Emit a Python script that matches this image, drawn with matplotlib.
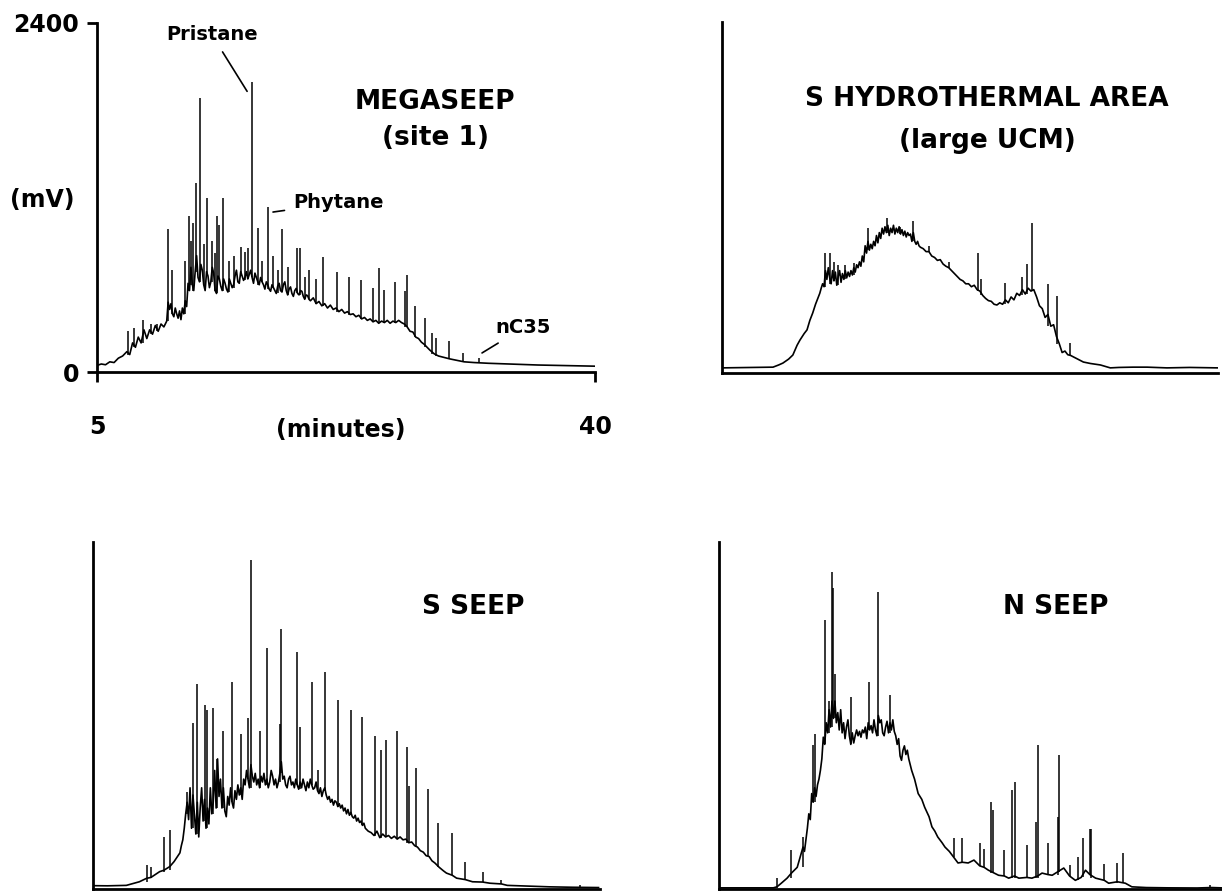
import numpy as np
import matplotlib.pyplot as plt

plt.rcParams['font.family'] = 'DejaVu Sans'
plt.rcParams['font.weight'] = 'bold'

# ---- MEGASEEP (site 1): time (min), signal (mV)
mega_t = [5.0, 5.3, 5.6, 5.9, 6.2, 6.5, 6.8, 7.1, 7.3, 7.5, 7.7, 7.9, 8.1, 8.3, 8.5, 8.7, 8.9,
          9.1, 9.3, 9.5, 9.7, 9.9, 10.0, 10.1, 10.2, 10.3, 10.4, 10.5, 10.6, 10.7, 10.8, 10.9,
          11.0, 11.1, 11.2, 11.3, 11.4, 11.5, 11.6, 11.7, 11.8, 11.9, 12.0, 12.1, 12.2, 12.3,
          12.4, 12.5, 12.6, 12.7, 12.8, 12.9, 13.0, 13.1, 13.2, 13.3, 13.4, 13.5, 13.6, 13.7,
          13.8, 13.9, 14.0, 14.1, 14.2, 14.3, 14.4, 14.5, 14.6, 14.7, 14.8, 14.9, 15.0, 15.1,
          15.2, 15.3, 15.4, 15.5, 15.6, 15.7, 15.8, 15.9, 16.0, 16.1, 16.2, 16.3, 16.4, 16.5,
          16.6, 16.7, 16.8, 16.9, 17.0, 17.1, 17.2, 17.3, 17.4, 17.5, 17.6, 17.7, 17.8, 17.9,
          18.0, 18.1, 18.2, 18.3, 18.4, 18.5, 18.6, 18.7, 18.8, 18.9, 19.0, 19.1, 19.2, 19.3,
          19.4, 19.5, 19.6, 19.7, 19.8, 19.9, 20.0, 20.2, 20.4, 20.6, 20.8, 21.0, 21.2, 21.4,
          21.6, 21.8, 22.0, 22.2, 22.4, 22.6, 22.8, 23.0, 23.2, 23.4, 23.6, 23.8, 24.0, 24.2,
          24.4, 24.6, 24.8, 25.0, 25.2, 25.4, 25.6, 25.8, 26.0, 26.2, 26.4, 26.6, 26.8, 27.0,
          27.2, 27.4, 27.6, 27.8, 28.0, 28.2, 28.4, 28.7, 29.0, 29.4, 29.8, 30.3, 30.8, 31.5,
          32.5, 34.0, 36.0, 38.0, 40.0]
mega_mv = [45, 55, 50, 70, 65, 95, 110, 140, 120, 200, 170, 240, 200, 290, 230, 290, 260,
           320, 280, 330, 310, 350, 480, 430, 470, 400, 380, 440, 400, 370, 420, 360,
           440, 400, 490, 450, 610, 560, 720, 600, 560, 690, 800, 650, 620, 740,
           700, 600, 560, 690, 660, 580, 620, 720, 680, 560, 540, 660, 640, 590,
           560, 640, 610, 570, 550, 640, 610, 580, 600, 660, 700, 620, 610, 690,
           660, 630, 650, 690, 640, 670, 700, 650, 610, 680, 650, 620, 600, 650,
           620, 600, 570, 620, 600, 570, 555, 600, 580, 560, 540, 590, 610, 560,
           550, 600, 620, 560, 530, 570, 585, 540, 520, 560, 575, 540, 530, 560,
           555, 520, 500, 530, 525, 500, 490, 510, 470, 485, 455, 470, 440, 460,
           430, 440, 415, 430, 405, 415, 395, 400, 380, 390, 365, 375, 355, 365,
           345, 355, 335, 350, 340, 355, 335, 350, 340, 355, 340, 330, 310, 280,
           275, 240, 230, 205, 190, 170, 150, 125, 110, 100, 90, 80, 70, 65,
           60, 55, 48, 44, 40]
mega_pk_t = [7.2, 7.6, 8.25, 8.8, 9.2, 9.99, 10.27, 11.2, 11.47, 11.62, 11.75, 11.96, 12.24,
             12.5, 12.73, 13.1, 13.3, 13.43, 13.57, 13.85, 14.3, 14.6, 15.12, 15.4, 15.6,
             15.89, 16.31, 16.6, 17.02, 17.4, 17.7, 18.0, 18.4, 19.05, 19.3, 19.6, 19.9,
             20.4, 20.88, 21.87, 22.71, 23.55, 24.4, 24.82, 25.17, 25.94, 26.64, 26.79,
             27.35, 28.05, 28.54, 28.82, 29.74, 30.72, 31.84]
mega_pk_mv = [280, 300, 360, 330, 330, 985, 700, 760, 1070, 900, 1025, 1300, 1885,
              880, 1200, 900, 820, 1070, 1010, 1200, 760, 800, 860, 825, 850,
              1995, 990, 760, 1135, 800, 700, 980, 720, 850, 850, 650, 700,
              640, 790, 690, 655, 630, 575, 715, 565, 620, 560, 670,
              455, 370, 265, 235, 215, 130, 95]

# ---- S HYDROTHERMAL AREA (large UCM)
hydro_t = [5.0, 7.0, 8.6, 9.0, 9.3, 9.7, 10.0, 10.3, 10.5, 10.8, 11.0, 11.2, 11.4, 11.6, 11.9,
           12.0, 12.1, 12.2, 12.3, 12.4, 12.5, 12.6, 12.7, 12.8, 12.9, 13.0, 13.1, 13.2, 13.3,
           13.4, 13.5, 13.6, 13.7, 13.8, 13.9, 14.0, 14.1, 14.2, 14.3, 14.4, 14.5, 14.6, 14.7,
           14.8, 14.9, 15.0, 15.1, 15.2, 15.3, 15.4, 15.5, 15.6, 15.7, 15.8, 15.9, 16.0, 16.1,
           16.2, 16.3, 16.4, 16.5, 16.6, 16.7, 16.8, 16.9, 17.0, 17.1, 17.2, 17.3, 17.4, 17.5,
           17.6, 17.7, 17.8, 17.9, 18.0, 18.1, 18.2, 18.3, 18.4, 18.5, 18.6, 18.7, 18.8, 18.9,
           19.0, 19.2, 19.4, 19.6, 19.8, 20.0, 20.2, 20.4, 20.6, 20.8, 21.0, 21.2, 21.4, 21.6,
           21.8, 22.0, 22.2, 22.4, 22.6, 22.8, 23.0, 23.2, 23.4, 23.6, 23.8, 24.0, 24.2, 24.4,
           24.6, 24.8, 25.0, 25.2, 25.4, 25.6, 25.8, 26.0, 26.2, 26.4, 26.6, 26.8, 27.0, 27.2,
           27.4, 27.6, 27.8, 28.0, 28.2, 28.4, 28.6, 28.8, 29.0, 29.2, 29.4, 29.6, 30.0, 30.5,
           31.0, 31.7, 32.4, 33.0, 34.0, 35.0, 36.4, 38.0, 40.0]
hydro_mv = [35, 38, 40, 55, 68, 95, 123, 190, 225, 270, 295, 360, 410, 470, 545,
            580, 610, 590, 700, 640, 720, 650, 610, 700, 630, 690, 600, 660, 700,
            620, 680, 640, 700, 650, 690, 660, 700, 670, 720, 690, 740, 720, 760,
            730, 800, 760, 870, 820, 900, 840, 880, 850, 900, 870, 940, 890, 960,
            920, 990, 950, 1000, 960, 1010, 940, 990, 960, 1010, 950, 990, 960, 1000,
            950, 980, 940, 970, 930, 960, 940, 950, 900, 960, 900, 880, 900, 870,
            860, 850, 830, 830, 800, 790, 770, 775, 745, 730, 720, 700, 680, 660,
            640, 630, 610, 610, 590, 600, 570, 560, 530, 510, 495, 490, 470, 465,
            480, 470, 500, 480, 520, 500, 545, 530, 570, 540, 580, 560, 570, 520,
            460, 440, 380, 400, 320, 330, 250, 200, 140, 150, 125, 120, 100, 75,
            65, 55, 35, 38, 40, 40, 35, 38, 35]
hydro_pk_t = [12.27, 12.62, 12.9, 13.2, 13.7, 14.3, 15.33, 16.62, 17.56, 18.5, 19.6, 21.0,
              23.09, 23.3, 24.97, 26.15, 26.5, 26.86, 28.03, 28.67, 29.56]
hydro_pk_mv = [820, 820, 760, 740, 740, 750, 990, 1060, 1000, 1040, 870, 760,
               820, 640, 615, 655, 745, 1025, 610, 525, 205]

# ---- S SEEP
sseep_t = [5.0, 6.0, 7.3, 8.2, 8.7, 9.0, 9.3, 9.6, 9.9, 10.3, 10.6, 11.0, 11.1, 11.2, 11.3,
           11.4, 11.5, 11.6, 11.7, 11.8, 11.9, 12.0, 12.1, 12.2, 12.3, 12.4, 12.5, 12.6, 12.7,
           12.8, 12.9, 13.0, 13.1, 13.2, 13.3, 13.4, 13.5, 13.6, 13.7, 13.8, 13.9, 14.0, 14.1,
           14.2, 14.3, 14.4, 14.5, 14.6, 14.7, 14.8, 14.9, 15.0, 15.1, 15.2, 15.3, 15.4, 15.5,
           15.6, 15.7, 15.8, 15.9, 16.0, 16.1, 16.2, 16.3, 16.4, 16.5, 16.6, 16.7, 16.8, 16.9,
           17.0, 17.1, 17.2, 17.3, 17.4, 17.5, 17.6, 17.7, 17.8, 17.9, 18.0, 18.1, 18.2, 18.3,
           18.4, 18.5, 18.6, 18.7, 18.8, 18.9, 19.0, 19.1, 19.2, 19.3, 19.4, 19.5, 19.6, 19.7,
           19.8, 19.9, 20.0, 20.1, 20.2, 20.3, 20.4, 20.5, 20.6, 20.7, 20.8, 20.9, 21.0, 21.1,
           21.2, 21.3, 21.4, 21.5, 21.6, 21.7, 21.8, 21.9, 22.0, 22.1, 22.2, 22.3, 22.4, 22.5,
           22.6, 22.7, 22.8, 22.9, 23.0, 23.1, 23.2, 23.3, 23.4, 23.5, 23.6, 23.7, 23.8, 23.9,
           24.0, 24.2, 24.4, 24.6, 24.8, 25.0, 25.2, 25.4, 25.6, 25.8, 26.0, 26.2, 26.4, 26.6,
           26.8, 27.0, 27.2, 27.4, 27.6, 27.8, 28.0, 28.2, 28.4, 28.6, 28.9, 29.2, 29.4, 29.8,
           30.1, 30.7, 31.2, 31.9, 32.4, 33.2, 33.6, 35.0, 36.5, 38.1, 39.9]
sseep_mv = [23, 22, 25, 50, 74, 80, 100, 120, 130, 155, 190, 250, 300, 340, 420,
            520, 600, 480, 700, 420, 650, 520, 380, 600, 360, 560, 700, 470, 620,
            420, 560, 450, 700, 520, 600, 820, 560, 900, 640, 760, 560, 700, 540,
            500, 640, 580, 700, 600, 560, 680, 620, 720, 650, 700, 620, 760, 720,
            820, 760, 700, 860, 780, 740, 800, 720, 760, 700, 780, 740, 800, 720,
            760, 700, 740, 820, 780, 720, 760, 700, 740, 800, 880, 760, 780, 720,
            700, 760, 780, 720, 740, 700, 760, 720, 690, 740, 700, 760, 720, 680,
            740, 700, 760, 720, 690, 700, 740, 680, 660, 700, 640, 680, 700, 650,
            620, 640, 600, 620, 580, 610, 600, 570, 590, 560, 580, 540, 560, 520,
            550, 510, 530, 500, 490, 510, 470, 490, 460, 470, 440, 455, 420, 410,
            400, 390, 370, 400, 355, 380, 360, 370, 350, 365, 345, 360, 340, 345,
            320, 325, 300, 290, 265, 255, 230, 225, 195, 180, 150, 125, 110, 95,
            75, 65, 50, 48, 40, 35, 25, 20, 15, 12, 10]
sseep_pk_t = [8.7, 9.0, 9.9, 10.3, 11.5, 11.9, 12.2, 12.7, 12.85, 13.3, 13.55, 14.0, 14.6,
              15.2, 15.7, 15.9, 16.5, 17.0, 17.9, 18.0, 19.1, 19.3, 20.1, 20.5, 21.0, 21.9,
              22.8, 23.6, 24.5, 24.9, 25.2, 26.0, 26.7, 26.8, 27.3, 28.1, 28.8, 29.8, 30.7,
              31.9, 33.2, 38.6]
sseep_pk_mv = [165, 150, 360, 405, 670, 1147, 1420, 1270, 1235, 1250, 900, 1090, 1430,
               1070, 1180, 2277, 1090, 1670, 1140, 1795, 1640, 1120, 1430, 820, 1500, 1310,
               1235, 1190, 1055, 960, 1030, 1090, 980, 713, 840, 690, 455, 390, 185,
               115, 60, 30]

# ---- N SEEP
nseep_t = [5.0, 7.0, 8.75, 9.0, 9.3, 9.7, 10.0, 10.4, 10.8, 10.9, 11.0, 11.1, 11.2, 11.3, 11.4,
           11.5, 11.6, 11.7, 11.8, 11.9, 12.0, 12.1, 12.2, 12.3, 12.4, 12.5, 12.6, 12.7, 12.8,
           12.9, 13.0, 13.1, 13.2, 13.3, 13.4, 13.5, 13.6, 13.7, 13.8, 13.9, 14.0, 14.1, 14.2,
           14.3, 14.4, 14.5, 14.6, 14.7, 14.8, 14.9, 15.0, 15.1, 15.2, 15.3, 15.4, 15.5, 15.6,
           15.7, 15.8, 15.9, 16.0, 16.1, 16.2, 16.3, 16.4, 16.5, 16.6, 16.7, 16.8, 16.9, 17.0,
           17.1, 17.2, 17.3, 17.4, 17.5, 17.6, 17.7, 17.8, 17.9, 18.0, 18.1, 18.2, 18.3, 18.4,
           18.5, 18.75, 19.0, 19.2, 19.5, 19.7, 19.9, 20.1, 20.4, 20.6, 20.9, 21.2, 21.5, 21.8,
           22.2, 22.6, 23.0, 23.3, 23.6, 24.0, 24.3, 24.7, 25.0, 25.4, 25.7, 26.25, 26.6, 27.0,
           27.3, 27.7, 28.0, 28.4, 28.8, 29.2, 29.6, 30.0, 30.3, 30.6, 31.0, 31.6, 31.9, 32.5,
           33.05, 33.5, 34.5, 36.0, 38.0, 39.0, 40.0]
nseep_mv = [8, 8, 8, 15, 40, 75, 110, 150, 290, 260, 340, 420, 520, 480, 660,
            600, 700, 640, 720, 760, 820, 900, 1050, 1000, 1150, 1080, 1240, 1120, 1300,
            1180, 1300, 1150, 1220, 1100, 1240, 1080, 1150, 1040, 1120, 1170, 1060, 1000, 1080,
            1010, 1060, 1100, 1060, 1090, 1050, 1100, 1080, 1120, 1040, 1150, 1100, 1130, 1080,
            1170, 1100, 1060, 1200, 1150, 1170, 1080, 1060, 1120, 1160, 1080, 1150, 1100, 1170,
            1090, 1060, 1000, 1040, 920, 890, 960, 990, 930, 960, 900, 860, 820, 790,
            760, 660, 620, 565, 500, 430, 400, 360, 320, 290, 260, 220, 180, 185,
            180, 200, 160, 150, 130, 110, 95, 90, 75, 90, 75, 80, 75, 90,
            110, 100, 95, 120, 145, 90, 60, 80, 130, 100, 75, 60, 40, 50,
            40, 15, 10, 8, 7, 10, 7]
nseep_pk_t = [9.0, 10.0, 10.8, 11.5, 11.6, 12.3, 12.6, 12.8, 12.9, 13.0, 14.1, 15.35, 16.0,
              16.8, 21.2, 21.8, 23.0, 23.3, 23.8, 23.9, 24.7, 25.2, 25.4, 26.25, 26.9, 27.0,
              27.7, 28.4, 28.5, 29.2, 29.8, 30.1, 30.6, 30.7, 31.6, 32.5, 32.9, 38.9]
nseep_pk_mv = [75, 270, 360, 995, 1075, 1860, 1300, 2195, 2085, 1490, 1325, 1430, 2055,
               1345, 350, 350, 320, 280, 600, 545, 270, 685, 740, 305, 465, 995,
               315, 500, 925, 165, 220, 350, 415, 415, 170, 180, 250, 30]

W, H = 1222, 891


def box(l, t, r, b):
    return [l / W, 1 - b / H, (r - l) / W, (b - t) / H]


def trace(ax, t, mv, pk_t, pk_mv):
    t = np.array(t)
    mv = np.array(mv)
    ax.plot(t, mv, color='black', lw=1.2)
    i = np.clip(np.searchsorted(t, pk_t), 1, len(t) - 1)
    base = np.minimum(mv[i - 1], mv[i])
    ax.vlines(pk_t, base, pk_mv, color='black', lw=1.1)
    ax.set_xlim(5, 40)
    ax.set_ylim(0, 2400)
    for s in ['top', 'right']:
        ax.spines[s].set_visible(False)
    for s in ['left', 'bottom']:
        ax.spines[s].set_linewidth(2)


fig = plt.figure(figsize=(W / 100, H / 100), dpi=100)

ax1 = fig.add_axes(box(97, 23, 595, 372))
trace(ax1, mega_t, mega_mv, mega_pk_t, mega_pk_mv)
ax1.set_xticks([5, 40])
ax1.set_yticks([0, 2400])
ax1.tick_params(axis='x', direction='out', length=7, width=2, labelsize=17, pad=24)
ax1.tick_params(axis='y', direction='out', length=7, width=2, labelsize=17, pad=6)
ax1.text(0.49, -0.165, '(minutes)', transform=ax1.transAxes, fontsize=17,
         ha='center', va='center')
ax1.text(-0.11, 0.493, '(mV)', transform=ax1.transAxes, fontsize=17,
         ha='center', va='center')
lp = dict(arrowstyle='-', color='black', lw=1.2, shrinkA=4, shrinkB=0)
ax1.annotate('Pristane', xy=(15.55, 1930), xytext=(13.08, 2318), fontsize=14,
             ha='center', va='center', arrowprops=lp)
ax1.annotate('Phytane', xy=(17.37, 1100), xytext=(21.94, 1163), fontsize=14,
             ha='center', va='center', arrowprops=lp)
ax1.annotate('nC35', xy=(32.06, 131), xytext=(34.94, 303), fontsize=14,
             ha='center', va='center', arrowprops=lp)

ax2 = fig.add_axes(box(722, 22, 1218, 373))
trace(ax2, hydro_t, hydro_mv, hydro_pk_t, hydro_pk_mv)
ax2.set_xticks([])
ax2.set_yticks([])

ax3 = fig.add_axes(box(93, 542, 600, 889))
trace(ax3, sseep_t, sseep_mv, sseep_pk_t, sseep_pk_mv)
ax3.set_xticks([])
ax3.set_yticks([])

ax4 = fig.add_axes(box(719, 542, 1226, 889))
trace(ax4, nseep_t, nseep_mv, nseep_pk_t, nseep_pk_mv)
ax4.set_xticks([])
ax4.set_yticks([])

titles = [('MEGASEEP', 435, 102), ('(site 1)', 435, 138),
          ('S HYDROTHERMAL AREA', 987, 99), ('(large UCM)', 987, 141),
          ('S SEEP', 473, 607), ('N SEEP', 1056, 607)]
for txt, x, y in titles:
    fig.text(x / W, 1 - y / H, txt, fontsize=19, ha='center', va='center')

fig.savefig('out.png', dpi=100)
